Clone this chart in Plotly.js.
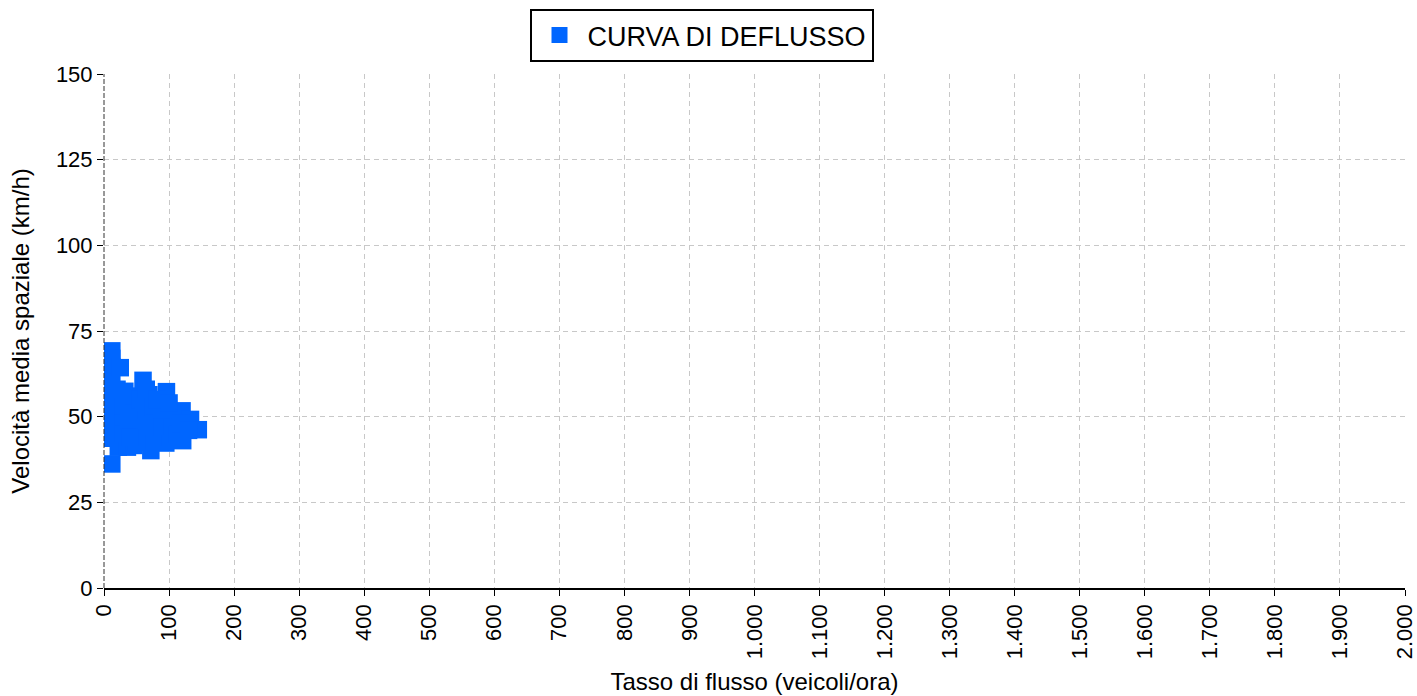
<!DOCTYPE html>
<html>
<head>
<meta charset="utf-8">
<script src="https://cdn.plot.ly/plotly-3.0.1.min.js"></script>
<style>html,body{margin:0;padding:0;background:#fff;}#chart{width:1417px;height:696px;}</style>
</head>
<body>
<div id="chart"></div>
<script>
// Flow rate (veicoli/ora) and space-mean speed (km/h)
const flusso = [12, 12, 12, 12, 12, 12, 12, 8, 12,
  25, 32, 60, 69, 96, 100, 120, 133, 145, 121, 95, 72, 22, 36, 46,
  30, 30, 30, 45, 45, 45, 55, 60, 58, 75, 78, 75, 88, 90, 105, 112, 118, 130, 50,
  20, 38, 65, 82, 100, 62, 40];
const velocita = [69.2, 64.5, 60, 55.5, 51, 47, 36.2, 43.7, 67,
  64.3, 57.4, 60.6, 56.4, 57.3, 51.7, 51.7, 49.2, 46.2, 43, 42.3, 40.1, 41.1, 41.1, 41.6,
  53, 48, 45, 56, 51, 46, 55, 50, 45, 53, 48, 44, 52, 47, 47, 45, 48, 46, 42.5,
  58, 49, 58, 55, 54, 47, 44];
const serieNome = 'CURVA DI DEFLUSSO';
const xTicks = [0,100,200,300,400,500,600,700,800,900,1000,1100,1200,1300,1400,1500,1600,1700,1800,1900,2000];
const yTicks = [0,25,50,75,100,125,150];

const FONT = 'Liberation Sans, Arial, sans-serif';
const trace = {
  x: flusso, y: velocita, type: 'scatter', mode: 'markers', name: serieNome,
  marker: {symbol: 'square', size: 17.5, color: '#0066ff', line: {width: 0}},
  showlegend: true
};
const layout = {
  width: 1417, height: 696,
  margin: {l: 104, r: 12, t: 74, b: 108, autoexpand: false},
  paper_bgcolor: '#fff', plot_bgcolor: '#fff',
  separators: ',.',
  font: {family: FONT, size: 22, color: '#000'},
  showlegend: true,
  legend: {
    orientation: 'h', x: 0.5 - 7 / 1417, xanchor: 'center', xref: 'container',
    y: 1 - 9 / 696, yanchor: 'top', yref: 'container',
    bordercolor: '#000', borderwidth: 2, bgcolor: '#fff', itemwidth: 46,
    font: {family: FONT, size: 27, color: '#000'}
  },
  xaxis: {
    range: [0, 2000], tickvals: xTicks, tickangle: -90,
    tickformat: ',d', ticklabeloverflow: 'allow',
    showgrid: true, gridcolor: '#c8c8c8', gridwidth: 1, griddash: '5px,4px',
    zeroline: false, showline: true, linecolor: '#000', linewidth: 1.5,
    ticks: 'outside', ticklen: 6, tickcolor: '#000', tickwidth: 1,
    tickfont: {family: FONT, size: 22, color: '#000'},
    title: {text: 'Tasso di flusso (veicoli/ora)', font: {family: FONT, size: 24, color: '#000'}, standoff: 15},
    fixedrange: true
  },
  yaxis: {
    range: [0, 150], tickvals: yTicks,
    showgrid: true, gridcolor: '#c8c8c8', gridwidth: 1, griddash: '5px,4px',
    zeroline: false, showline: false,
    ticks: 'outside', ticklen: 6, tickcolor: '#000', tickwidth: 1,
    tickfont: {family: FONT, size: 22, color: '#000'},
    title: {text: 'Velocità media spaziale (km/h)', font: {family: FONT, size: 24, color: '#000'}, standoff: 19},
    fixedrange: true
  },
  shapes: [{
    type: 'line', xref: 'paper', yref: 'paper', x0: 0, x1: 0, y0: 0, y1: 1,
    line: {color: '#333', width: 1, dash: '5px,2px'}, layer: 'above'
  }]
};
Plotly.newPlot('chart', [trace], layout, {displayModeBar: false, staticPlot: true});
</script>
</body>
</html>
